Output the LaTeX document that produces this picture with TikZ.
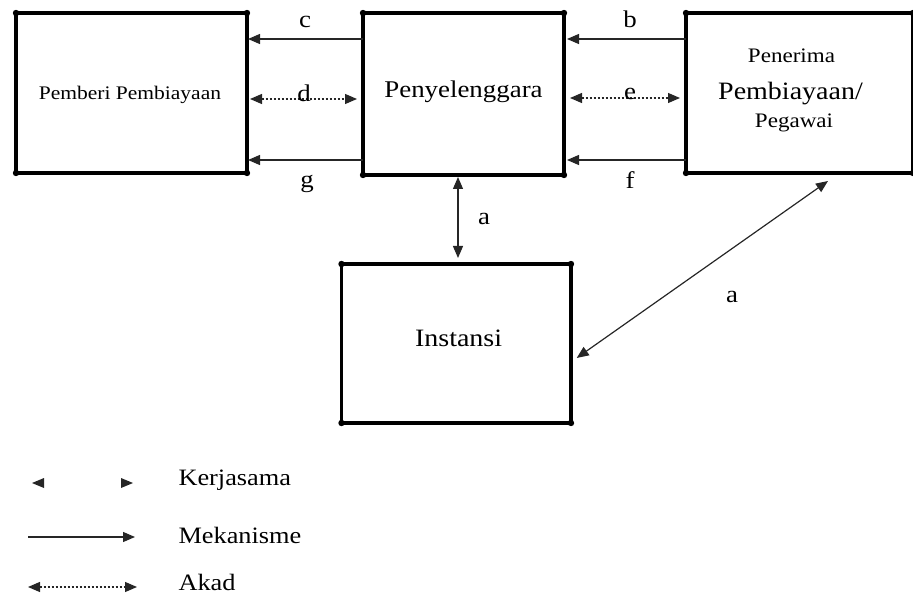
\documentclass[tikz,border=0pt]{standalone}
\usepackage{fontspec}
\setmainfont{Liberation Serif}[FakeStretch=1.12]
\usetikzlibrary{arrows.meta}
\begin{document}
\begin{tikzpicture}[x=1pt,y=-1pt,
  box/.style={draw, line width=3.4pt, inner sep=0pt, outer sep=0pt},
  corner/.style={fill=black},
  mech/.style={line width=1.2pt, draw=black!85, -{Triangle[length=12pt,width=10pt]}, shorten >=1pt},
  akad/.style={line width=1.2pt, draw=black!85, dash pattern=on 2.5pt off 1.5pt, {Triangle[length=12pt,width=10pt]}-{Triangle[length=12pt,width=10pt]}},
  kerja/.style={line width=1.2pt, draw=black!85, {Triangle[length=12pt,width=10pt]}-{Triangle[length=12pt,width=10pt]}},
  lbl/.style={anchor=base, font=\fontsize{24}{28}\selectfont},
  leg/.style={anchor=base west, font=\fontsize{23.5}{28}\selectfont}]
\useasboundingbox (0,0) rectangle (913,596);

% boxes
\node[box, minimum width=231pt, minimum height=160pt] (b1) at (131.5,93) {};
\node[box, minimum width=201pt, minimum height=162pt] (b2) at (463.5,94) {};
\node[box, minimum width=227pt, minimum height=160pt] (b3) at (799.5,93) {};
\node[box, minimum width=229.5pt, minimum height=159pt] (b4) at (456.25,343.5) {};
\foreach \b in {b1,b2,b3,b4}
  \foreach \c in {north west,north east,south west,south east}
    \fill[corner] (\b.\c) circle (3.2pt);

% box texts
\node[anchor=base, font=\fontsize{19.2}{22}\selectfont] (t1) at (130,100) {Pemberi Pembiayaan};
\node[anchor=base, font=\fontsize{24}{28}\selectfont] (t2) at (463.5,98) {Penyelenggara};
\node[anchor=base, font=\fontsize{20.6}{24}\selectfont] (t3a) at (791.5,63) {Penerima};
\node[anchor=base, font=\fontsize{25}{28}\selectfont] (t3b) at (790.5,100) {Pembiayaan/};
\node[anchor=base, font=\fontsize{20.6}{24}\selectfont] (t3c) at (794,128) {Pegawai};
\node[anchor=base, font=\fontsize{25}{28}\selectfont] (t4) at (458.6,346) {Instansi};

% level coordinates
\coordinate (ytop) at (0,39);
\coordinate (yd) at (0,99);
\coordinate (ye) at (0,98);
\coordinate (ybot) at (0,160);
\coordinate (xa) at (458,0);
\coordinate (ydiag) at (0,362);
\coordinate (dtop) at (828,181);

% connectors
\draw[mech] (b2.west |- ytop) -- (b1.east |- ytop);
\draw[mech] (b2.west |- ybot) -- (b1.east |- ybot);
\draw[akad, shorten <=3pt, shorten >=6pt] (b1.east |- yd) -- (b2.west |- yd);
\draw[mech, shorten >=3pt] (b3.west |- ytop) -- (b2.east |- ytop);
\draw[mech, shorten >=3pt] (b3.west |- ybot) -- (b2.east |- ybot);
\draw[akad, shorten <=6pt, shorten >=6pt] (b2.east |- ye) -- (b3.west |- ye);
\draw[kerja, shorten <=2pt, shorten >=6pt] (b2.south -| xa) -- (b4.north -| xa);
\draw[kerja, shorten <=7pt] (b4.east |- ydiag) -- (dtop);

% connector labels
\node[lbl] (lc) at (305,28) {c};
\node[lbl] (lb) at (630,28) {b};
\node[lbl] (ld) at (304,102) {d};
\node[lbl] (le) at (630,100) {e};
\node[lbl] (lg) at (307,188) {g};
\node[lbl] (lf) at (630,189) {f};
\node[lbl] (la1) at (484,225) {a};
\node[lbl] (la2) at (732,302) {a};

% legend
\fill[black!85] (32,483) -- (44,478) -- (44,488) -- cycle;
\fill[black!85] (133,483) -- (121,478) -- (121,488) -- cycle;
\coordinate (m1) at (28,537);
\coordinate (m2) at (135,537);
\draw[mech, shorten >=0pt] (m1) -- (m2);
\coordinate (k1) at (28,587);
\coordinate (k2) at (137,587);
\draw[akad] (k1) -- (k2);
\node[leg] (lk) at (175,485) {Kerjasama};
\node[leg] (lm) at (175,543) {Mekanisme};
\node[leg] (la) at (175,590) {Akad};
\end{tikzpicture}
\end{document}
